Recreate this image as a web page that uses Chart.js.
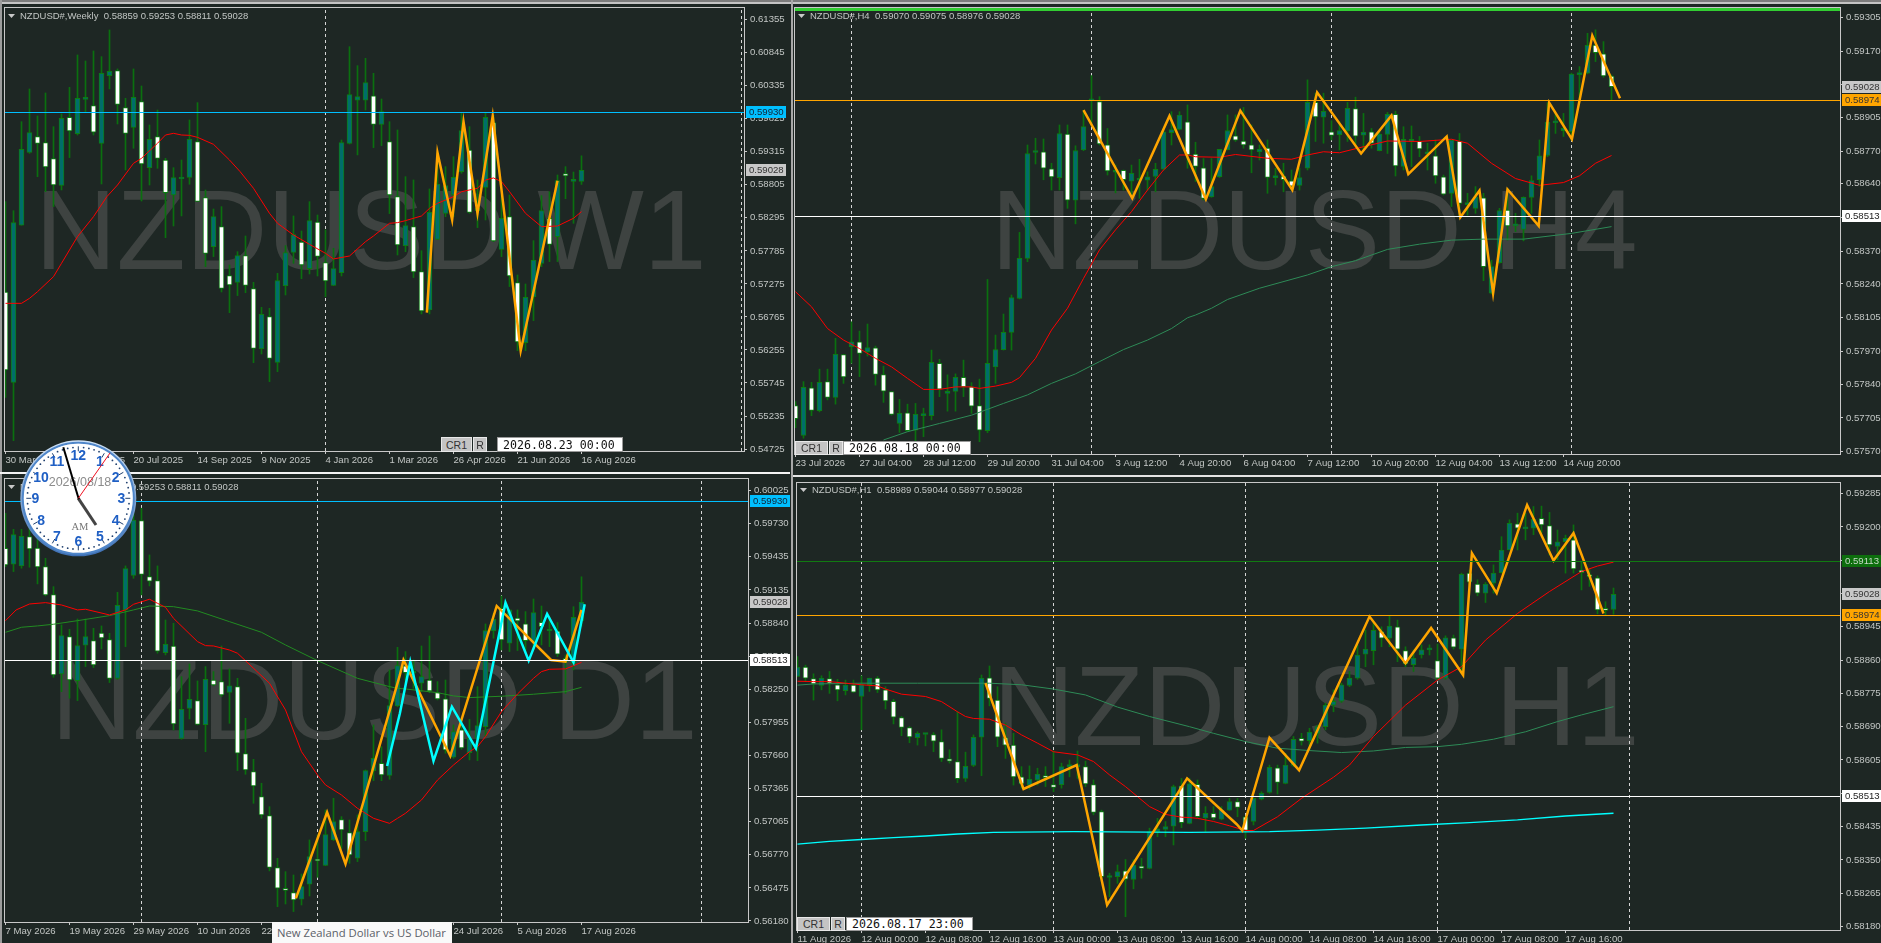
<!DOCTYPE html>
<html>
<head>
<meta charset="utf-8">
<title>NZDUSD</title>
<script src="https://cdn.jsdelivr.net/npm/chart.js@4"></script>
<style>
html,body{margin:0;padding:0;background:#1e2724;width:1881px;height:943px;overflow:hidden}
canvas{position:absolute}
.bar{position:absolute;z-index:2}
.btn{position:absolute;z-index:3;background:#c4c4c4;border:1px solid #e8e8e8;box-sizing:border-box;color:#333;font:10.5px "Liberation Sans";text-align:center}
.tbox{position:absolute;z-index:3;background:#fff;border:1px solid #999;box-sizing:border-box;color:#111;font:11.6px "DejaVu Sans Mono";padding-left:5px;white-space:pre}
#tip{position:absolute;z-index:5;left:272px;top:922px;width:180px;height:21px;background:#f9f9f9;color:#5b6068;font:11.3px "Open Sans";padding:3px 0 0 5px;box-sizing:border-box;white-space:nowrap}
#clock{position:absolute;z-index:4;left:0;top:419px}
</style>
</head>
<body>
<div id="tip">New Zealand Dollar vs US Dollar</div>
<script>
// weekly: open, high, low, close
const w1Ohlc=[[.5715,.58545,.55524,.55946],[.55755,.58406,.54855,.58221],[.5818,.5978,.5818,.59353],[.59307,.60285,.59291,.5961],[.59549,.59868,.58931,.59446],[.59456,.60223,.58699,.5908],[.59209,.59703,.58468,.58802],[.58797,.59899,.58725,.59832],[.59847,.6031,.59225,.59636],[.59595,.6081,.59574,.60141],
[.60125,.60717,.59935,.60141],[.60027,.60872,.59574,.59616],[.59446,.60784,.58818,.60527],[.60491,.61196,.60285,.60558],[.60568,.60594,.59744,.60048],[.59997,.60141,.59034,.596],[.59693,.60594,.59369,.60156],[.60089,.60331,.58555,.59127],[.5907,.59729,.58802,.59507],[.59549,.5996,.5906,.59214],
[.59188,.59214,.57989,.58684],[.58648,.5907,.58169,.58916],[.58895,.59188,.58324,.58905],[.58921,.59806,.58813,.59507],[.59472,.60074,.5855,.5855],[.58607,.58725,.57541,.57747],[.5785,.58432,.57696,.58313],[.58159,.58468,.5715,.57207],[.57402,.57567,.56831,.57258],[.57299,.57773,.57094,.57711],
[.57711,.58015,.5714,.57253],[.57202,.57299,.56059,.5628],[.56275,.56913,.56193,.56805],[.56769,.56898,.55766,.56126],[.56064,.57438,.5592,.57325],[.57248,.57866,.57104,.57758],[.57763,.58324,.57593,.58036],[.57922,.58092,.57356,.57567],[.5751,.58545,.57428,.58252],[.58231,.58339,.57397,.57701],
[.57603,.58108,.57078,.5732],[.57253,.57825,.57248,.5751],[.57449,.59497,.57397,.59456],[.59446,.60938,.59435,.60197],[.6011,.60645,.59266,.60166],[.6011,.60758,.5996,.60383],[.60177,.60527,.59379,.59739],[.59739,.6013,.5941,.59935],[.59472,.5978,.5836,.58648],[.58622,.59652,.57721,.57876],
[.57866,.58931,.57773,.58174],[.58159,.5888,.57372,.57459],[.57464,.57788,.56811,.56857],[.56872,.58741,.56811,.5838],[.57963,.59302,.57963,.58818],[.58365,.59086,.58313,.58792],[.58648,.5924,.58313,.58921],[.59008,.59919,.58983,.59641],[.59343,.59703,.58365,.5838],[.58406,.5888,.58144,.58442],
[.58766,.59919,.58262,.59847],[.59765,.59883,.57927,.57938],[.57809,.58648,.57696,.58288],[.58313,.58648,.57233,.57397],[.57294,.57413,.56244,.56378],[.56368,.57274,.56244,.57068],[.57078,.57943,.56708,.57644],[.57593,.58638,.57541,.58406],[.58288,.58699,.57619,.57886],[.58005,.58957,.57619,.58869],
[.58977,.59086,.58591,.58941],[.58859,.59003,.5821,.5889],[.58859,.59253,.58811,.59028]];
const w1Red=[[0,.56975],[2,.56975],[3,.57052],[4,.57155],[6,.57387],[7,.57593],[9,.58005],[11,.58313],[12.67,.58622],[14,.58802],[16,.59137],[17,.59214],[19,.59446],[20,.59574],[21,.596],[22,.59574],[23,.59569],[24,.59538],[26,.5943],[28,.59188],[29.33,.59008],[31,.58751],[33,.58365],[34,.58211],[36,.5803],[38,.57886],[40,.57747],[41,.5766],[43,.57706],[45,.57927],[46,.58015],[48,.58211],[49,.58221],[50,.58252],[52,.58324],[53,.58442],[54,.58519],[56,.58622],[57,.58699],[59,.58751],[60,.5888],[61,.58911],[62,.58854],[63,.58699],[65,.58365],[67,.58159],[69,.58169],[71,.58288],[72,.58391]];
const w1Zig=[[52.67,.56831],[54,.59302],[55.83,.58262],[57.25,.5978],[59,.58365],[60.9,.59868],[64.4,.56244],[69,.58869]];
const w1Ticks=[.61355,.60845,.60335,.59825,.59315,.58805,.58295,.57785,.57275,.56765,.56255,.55745,.55235,.54725];
const w1Dates=['30 Mar 2025','25 May 2025','20 Jul 2025','14 Sep 2025','9 Nov 2025','4 Jan 2026','1 Mar 2026','26 Apr 2026','21 Jun 2026','16 Aug 2026'];
const w1Seps=[40,92];

// 4 hours
const h4Ohlc=[[.57754,.5777,.57666,.57702],[.57635,.5785,.57624,.57827],[.57825,.57847,.57714,.57735],[.57734,.579,.57729,.57847],[.5785,.579,.57777,.57787],[.57787,.58023,.5776,.57959],[.57958,.57959,.57843,.57869],[.5799,.58089,.57923,.58009],[.58009,.58052,.5787,.57963],[.57969,.5808,.57952,.57986],
[.57985,.57992,.57836,.57879],[.57878,.57912,.57767,.57812],[.5781,.5781,.57716,.57719],[.57683,.57779,.57647,.57723],[.57725,.5776,.5765,.57654],[.57656,.57763,.57614,.57719],[.57714,.57744,.5763,.57719],[.57714,.57976,.57697,.57927],[.57923,.57939,.5779,.5782],[.57803,.57877,.57732,.57811],
[.57811,.57881,.57732,.57867],[.57867,.57936,.5779,.57829],[.57829,.57846,.57723,.57752],[.57754,.5786,.5761,.57656],[.57654,.58258,.57646,.57923],[.57909,.58036,.57843,.57978],[.57978,.5812,.57976,.58047],[.58047,.58196,.57976,.58186],[.58182,.58446,.5818,.58342],[.58342,.58795,.58329,.58761],
[.58765,.58822,.58719,.58773],[.58768,.58819,.58656,.58702],[.587,.58722,.58615,.58667],[.58664,.58875,.58615,.58841],[.58839,.58875,.58542,.58575],[.58575,.58792,.5848,.58773],[.58775,.58934,.58772,.58868],[.58971,.59072,.58882,.58974],[.58968,.58988,.58795,.58799],[.58796,.58861,.58675,.58691],
[.58686,.58715,.58604,.58692],[.58694,.58695,.58615,.58656],[.5865,.58715,.58588,.58682],[.58654,.58738,.58582,.58658],[.58654,.58688,.58615,.58668],[.58669,.58722,.58608,.58698],[.58698,.58851,.58695,.58848],[.58844,.58928,.58795,.58856],[.58857,.58928,.58855,.58914],[.58887,.58955,.58702,.58755],
[.58759,.58806,.58649,.58709],[.58704,.58741,.58575,.58582],[.58588,.58741,.58586,.58629],[.58668,.58778,.58665,.58778],[.58776,.58915,.58775,.58853],[.58832,.58915,.58809,.58814],[.58811,.58945,.58782,.58795],[.58796,.58875,.58684,.58775],[.58767,.58795,.58735,.58779],[.58783,.58815,.58602,.58665],
[.58664,.58702,.58635,.58673],[.58671,.58722,.58608,.58656],[.58652,.58695,.58615,.58631],[.58634,.58702,.58615,.58665],[.58702,.59055,.58695,.58965],[.58965,.59002,.58809,.58907],[.58906,.59002,.58802,.58929],[.58848,.58892,.58815,.58833],[.58836,.58888,.58775,.58853],[.58851,.58965,.58809,.58941],
[.5894,.58986,.58795,.5883],[.58834,.58921,.58779,.58847],[.58848,.58861,.58782,.58802],[.58772,.58848,.58771,.58839],[.58837,.58925,.58761,.58917],[.58917,.5893,.58671,.58711],[.58709,.58868,.58695,.58818],[.58809,.58871,.58709,.58818],[.5881,.58829,.58748,.58779],[.58759,.58802,.58695,.58768],
[.58752,.58815,.58642,.58671],[.58668,.58675,.58595,.58599],[.58602,.58815,.58549,.58815],[.58811,.58841,.58508,.58562],[.58557,.58602,.58515,.58562],[.58542,.58629,.58522,.58588],[.58584,.58602,.58253,.58309],[.58203,.58335,.582,.58309],[.58325,.58542,.58322,.58533],[.58535,.58622,.58415,.58472],
[.58472,.58522,.58449,.5848],[.58458,.58588,.58412,.58586],[.58586,.58672,.58522,.58653],[.58656,.58815,.58629,.58752],[.58753,.58964,.58748,.58886],[.58883,.58921,.58841,.58887],[.58852,.58921,.58829,.58861],[.58848,.59082,.58815,.59078],[.59076,.59108,.58975,.59082],[.59082,.59241,.59079,.59193],
[.59194,.59255,.59128,.59164],[.59159,.59208,.59065,.59071],[.5907,.59075,.58976,.59028]];
const h4Red=[[0,.58209],[2,.58149],[4,.58062],[6,.58016],[8,.57982],[10,.57943],[12,.57909],[14,.57863],[16,.57819],[18,.57819],[20,.57829],[22,.57829],[23,.57823],[25,.57832],[27,.57847],[28,.57866],[30,.57943],[32,.58056],[34,.58143],[36,.58262],[38,.58376],[40,.58456],[42,.58529],[44,.58615],[46,.58695],[48,.58755],[49,.58755],[50,.58748],[53,.58746],[55,.58757],[59,.58742],[62,.58738],[64,.58755],[66,.58768],[68,.58764],[71,.58788],[74,.58811],[78,.58809],[82,.58818],[84,.58802],[87,.58722],[90,.58661],[93,.58634],[96,.58645],[98,.58672],[100,.58722],[102,.58753]];
const h4Green=[[11,.57617],[14,.5765],[18,.57683],[22,.57716],[26,.57763],[29,.57797],[32,.57843],[35,.57881],[38,.5793],[41,.57978],[44,.58016],[47,.58062],[49,.58105],[50,.58116],[52,.58143],[54,.58178],[58,.58223],[64,.58276],[67,.58309],[70,.58333],[74,.58378],[78,.58399],[82,.58415],[86,.58419],[91,.58419],[97,.58442],[102,.58469]];
const h4Zig=[[36,.58934],[42.1,.58582],[46.75,.58911],[51.3,.58578],[55.6,.58932],[62.1,.58615],[65.2,.59005],[70.7,.58761],[74.5,.58913],[76.6,.58679],[81.4,.58829],[83.1,.58506],[85.5,.58613],[87.2,.58203],[89,.58618],[92.9,.58472],[94.2,.58964],[97.05,.58818],[99.6,.59232],[103.06,.58982]];
const h4Ticks=[.59305,.5917,.59035,.58905,.5877,.5864,.58505,.5837,.5824,.58105,.5797,.5784,.57705,.5757];
const h4Dates=['23 Jul 2026','27 Jul 04:00','28 Jul 12:00','29 Jul 20:00','31 Jul 04:00','3 Aug 12:00','4 Aug 20:00','6 Aug 04:00','7 Aug 12:00','10 Aug 20:00','12 Aug 04:00','13 Aug 12:00','14 Aug 20:00'];
const h4Seps=[7,37,67,97];

// daily
const d1Ohlc=[[.59507,.5982,.59344,.59359],[.59365,.59677,.59299,.59629],[.5935,.59677,.59329,.59615],[.59612,.59731,.59338,.59501],[.5951,.59612,.59189,.59341],[.59344,.59418,.59082,.59091],[.59094,.59165,.58355,.58376],[.58385,.58823,.58227,.58727],[.58719,.58784,.58168,.58331],[.58326,.58876,.58147,.58638],
[.58641,.58876,.58451,.58719],[.58683,.58793,.58442,.58465],[.58751,.58814,.58608,.58707],[.58692,.58748,.58308,.58346],[.58346,.59114,.58337,.58998],[.58957,.5935,.58629,.59326],[.59266,.5982,.59239,.5976],[.59755,.59865,.59091,.59275],[.59254,.59448,.59171,.59213],[.59219,.5935,.5857,.58588],
[.58576,.58867,.58555,.5865],[.58635,.58838,.57885,.57939],[.5781,.58361,.57802,.58069],[.58078,.58474,.57983,.58159],[.58147,.58323,.5793,.57935],[.57933,.58451,.57691,.58337],[.58331,.58406,.58278,.58287],[.58317,.58635,.58183,.58198],[.58221,.5843,.57944,.58278],[.58272,.58346,.57522,.57677],
[.57674,.57989,.57489,.57528],[.57513,.57623,.5723,.57385],[.5729,.57409,.57096,.57126],[.5712,.572,.56626,.56658],[.56655,.56739,.56307,.56471],[.56468,.5662,.56331,.56453],[.56432,.5659,.56263,.56367],[.56373,.56599,.56322,.56486],[.56507,.56903,.56402,.56754],[.56727,.56947,.56569,.56715],
[.56676,.5717,.56673,.5695],[.56903,.57275,.56897,.57066],[.57084,.57111,.56828,.56992],[.56968,.57081,.56694,.56769],[.56739,.57126,.56709,.56977],[.56977,.57528,.56897,.57522],[.57522,.5793,.57432,.57632],[.57587,.57736,.57432,.57483],[.5748,.58421,.57444,.58102],[.58099,.58623,.58093,.58459],
[.58457,.58585,.58302,.58397],[.58391,.5851,.58257,.58406],[.58302,.58635,.58227,.58361],[.58331,.58724,.58218,.58233],[.58218,.58317,.58153,.58162],[.58162,.58331,.57677,.57706],[.57641,.5793,.57632,.5787],[.57885,.57989,.57712,.57724],[.57683,.5798,.57617,.5781],[.5781,.58272,.57611,.57924],
[.57915,.58832,.57825,.58772],[.58769,.58927,.58704,.58873],[.58972,.59082,.58599,.58689],[.58659,.58957,.58585,.58957],[.58885,.58957,.58594,.58858],[.58832,.58942,.58576,.58683],[.58674,.59055,.58599,.58933],[.58847,.58992,.58644,.58808],[.58769,.58897,.58629,.58778],[.58769,.58844,.5854,.58561],
[.58525,.58555,.58212,.58495],[.5848,.58986,.58421,.58891],[.58859,.59253,.58811,.59028]];
const d1Red=[[0,.58861],[1.33,.58957],[3,.5901],[5,.59022],[7,.59001],[9,.58957],[10,.58963],[13,.58912],[15,.58957],[16,.59007],[18,.59052],[19,.59016],[20,.5898],[21,.58882],[24,.58674],[25,.58638],[26,.58635],[28,.58599],[29,.5857],[31,.58436],[33,.58302],[35,.58064],[37,.57691],[39,.57483],[40,.57394],[42,.57304],[44,.57185],[46,.57096],[48,.57051],[49,.57096],[50,.57141],[52,.5726],[54,.57438],[56,.57572],[58,.57691],[59,.57736],[60,.57825],[62,.58049],[64,.58206],[66,.58346],[67,.58406],[68,.58427],[70,.5843],[71,.58459],[72,.58489]];
const d1Green=[[0,.58757],[2,.58802],[4,.58814],[6,.58829],[9,.58861],[13,.58906],[16,.58957],[18,.58992],[21,.58986],[24,.58948],[28,.58852],[32,.58757],[35,.58644],[39,.58504],[44,.58346],[48,.58272],[49,.58257],[50,.58251],[54,.58218],[56,.58189],[58,.58174],[62,.58186],[66,.58204],[70,.58227],[72,.58266]];
const d1Zig=[[36.3,.56382],[40.2,.5715],[42.5,.56688],[49.3,.58376],[49.75,.5851],[55.6,.57653],[61.4,.58992],[68.2,.5851],[70,.58495],[72,.58957]];
const d1Cyan=[[47.7,.57563],[49.3,.58034],[50.6,.58495],[53.5,.57608],[55.8,.58093],[58.8,.57721],[62.5,.59022],[65.4,.58504],[67.7,.58921],[71,.58489],[72.4,.59007]];
const d1Ticks=[.60025,.5973,.59435,.59135,.5884,.58545,.5825,.57955,.5766,.57365,.57065,.5677,.56475,.5618];
const d1Dates=['7 May 2026','19 May 2026','29 May 2026','10 Jun 2026','22 Jun 2026','2 Jul 2026','14 Jul 2026','24 Jul 2026','5 Aug 2026','17 Aug 2026'];
const d1Seps=[17,39,62,87];

// 1 hour
const h1Ohlc=[[.58818,.58869,.58818,.58842],[.58842,.58847,.58805,.58814],[.58813,.58825,.58758,.58799],[.58795,.5882,.58784,.58814],[.58813,.58831,.58775,.58801],[.58797,.58811,.58756,.58784],[.58782,.58809,.58771,.58796],[.58796,.58809,.58777,.58778],[.58767,.5882,.58682,.58797],[.58797,.58814,.5878,.58814],
[.58814,.58818,.58777,.58784],[.58784,.58792,.58735,.58756],[.58755,.5876,.58697,.58714],[.58713,.58716,.58667,.58688],[.58688,.5869,.58649,.58664],[.58662,.58677,.58643,.58673],[.5867,.58673,.58641,.58673],[.5867,.58675,.58626,.58653],[.58652,.58682,.58601,.58609],[.58608,.58631,.58597,.58602],
[.58601,.58728,.58547,.58557],[.58558,.58625,.5855,.58589],[.58591,.58669,.58588,.58663],[.58663,.58822,.58565,.58814],[.58815,.58845,.58743,.58762],[.58758,.58792,.58639,.58663],[.58662,.58699,.58609,.58643],[.58643,.58673,.58541,.58562],[.58562,.58588,.58533,.58544],[.58541,.5859,.5853,.58556],
[.58554,.58584,.58541,.58569],[.58565,.58588,.58537,.5856],[.58542,.58628,.58524,.58535],[.58542,.58597,.58533,.58588],[.58588,.58605,.58562,.58593],[.58588,.58628,.58558,.58593],[.58588,.58602,.58537,.58544],[.58542,.58554,.58465,.58471],[.58473,.58477,.58303,.58307],[.58305,.58316,.58256,.58309],
[.58307,.58337,.5829,.5832],[.58322,.58351,.58205,.58301],[.583,.5835,.58276,.58337],[.58334,.58354,.58303,.58328],[.58328,.58431,.58327,.58422],[.58422,.58456,.58409,.58429],[.58428,.58448,.58409,.58435],[.58436,.58541,.58388,.58537],[.58539,.58558,.58432,.58445],[.58443,.58558,.58442,.58544],
[.58543,.58554,.58456,.5846],[.58457,.58486,.58422,.58469],[.58469,.58486,.58452,.58457],[.58454,.58486,.58452,.58477],[.58477,.58507,.58476,.58499],[.58499,.58507,.5846,.58484],[.5846,.5846,.58405,.58425],[.58448,.58507,.58439,.58507],[.58505,.58524,.58503,.5852],[.58522,.58592,.5852,.58586],
[.58585,.58592,.58518,.58548],[.58545,.58622,.58544,.58592],[.58591,.58665,.58588,.58658],[.5866,.58673,.58643,.58653],[.58654,.58686,.58631,.58676],[.58673,.58694,.58648,.5869],[.5869,.5875,.58682,.58745],[.58745,.58784,.58728,.58755],[.58755,.58801,.58752,.58797],[.58795,.58831,.58792,.58814],
[.58814,.58899,.58811,.58873],[.58875,.58937,.58843,.58888],[.58884,.58958,.58848,.58936],[.58933,.58945,.58894,.58916],[.58916,.58974,.58894,.58947],[.58945,.58962,.58856,.58888],[.58884,.58894,.58843,.5885],[.58848,.58886,.58831,.58865],[.58873,.58899,.58865,.58886],[.58886,.58899,.58873,.58888],
[.58859,.58901,.58809,.58814],[.58814,.58922,.58811,.58917],[.58917,.58924,.58888,.58893],[.58888,.59082,.58826,.59079],[.59082,.5909,.59052,.59059],[.59054,.59065,.59024,.59031],[.59031,.59058,.59007,.59054],[.59056,.59103,.59031,.59082],[.59083,.59175,.59082,.59141],[.59141,.59218,.59141,.59209],
[.59208,.59235,.59141,.59197],[.59195,.59235,.59167,.59197],[.59197,.59252,.5918,.59219],[.59222,.59253,.59184,.59205],[.59203,.59237,.59128,.59154],[.5915,.59192,.59116,.59162],[.59162,.59179,.59082,.59171],[.59167,.59205,.59082,.59093],[.5909,.59111,.59039,.59083],[.59077,.59094,.59048,.59073],
[.5907,.59075,.58978,.58988],[.5899,.59009,.58975,.58987],[.58989,.59044,.58977,.59028]];
const h1Red=[[0,.58806],[2,.58805],[4,.58805],[6,.58801],[8,.58797],[10,.58794],[11,.58786],[13,.58773],[16,.58767],[18,.58754],[20,.58728],[21,.58716],[22,.58711],[24,.58709],[26,.58694],[28,.58669],[30,.58648],[32,.58626],[35,.58618],[37,.58601],[39,.58567],[41,.58537],[44,.58486],[46,.58466],[48,.58459],[49,.58458],[50,.58456],[52,.58448],[54,.58437],[56,.58425],[57,.58425],[60,.5846],[63,.58507],[67,.58561],[69,.58592],[72,.58665],[76,.58745],[80,.58809],[83,.58843],[86,.58911],[90,.58979],[94,.59035],[98,.59086],[100,.591],[102,.5911]];
const h1Green=[[0,.58796],[2,.58799],[8,.58801],[15,.58801],[24,.58801],[28,.58797],[32,.58786],[36,.58771],[40,.5874],[44,.58716],[49,.5869],[52,.58673],[56,.58652],[60,.58635],[64,.58629],[68,.58624],[72,.58628],[76,.58637],[80,.58639],[83,.58645],[87,.58658],[91,.58677],[95,.58703],[98,.5872],[102,.58741]];
const h1Cyan=[[0,.5839],[4,.58397],[8,.58402],[12,.58407],[16,.58411],[20,.58416],[24.5,.5842],[34.5,.58422],[49,.5842],[59,.58422],[65,.58426],[71,.58431],[78,.58439],[84,.58445],[90,.58452],[96,.58462],[102,.58469]];
const h1Zig=[[23.5,.58801],[28.25,.58531],[34.9,.58592],[38.7,.58235],[48.7,.58558],[54.9,.58441],[55.6,.58425],[59,.58662],[62.7,.58579],[71.5,.58971],[76,.58852],[79.2,.58942],[83.2,.58822],[84.3,.59133],[87.4,.59031],[91.2,.59256],[94.5,.59114],[97,.59184],[100.75,.58979]];
const h1Ticks=[.59285,.592,.59115,.5903,.58945,.5886,.58775,.5869,.58605,.5852,.58435,.5835,.58265,.5818];
const h1Dates=['11 Aug 2026','12 Aug 00:00','12 Aug 08:00','12 Aug 16:00','13 Aug 00:00','13 Aug 08:00','13 Aug 16:00','14 Aug 00:00','14 Aug 08:00','14 Aug 16:00','17 Aug 00:00','17 Aug 08:00','17 Aug 16:00'];
const h1Seps=[8,32,56,80,104];

// price levels
const lastPrice=.59028, cyanLevel=.5993, orangeLevel=.58974, whiteLevel=.58513, greenLevel=.59113, limeLevel=.59337;

const FRAME='#c8c8c8', TXT='#c2c6c4', WICK='#0a700f', EDGE='#0c7d12', UP='#006e6a', DOWN='#ffffff';
const RED='#ff0000', ORANGE='#ffa500', SEA='#2e8b57', FOREST='#228b22', CYAN='#00ffff', SKY='#00bfff';
const lastTag={v:lastPrice,bg:'#c8c8c8',fg:'#333',noLine:true};
const cyanTag={v:cyanLevel,color:SKY,bg:'#00bfff',fg:'#123'};
const orangeTag={v:orangeLevel,color:ORANGE,bg:'#ffa500',fg:'#333'};
const whiteTag={v:whiteLevel,color:'#ffffff',bg:'#ffffff',fg:'#222'};

const panels=[
 {id:'w1',rect:[3,4,787,467],area:[5,8,744,451],x0:5.5,yr:[.54695,.61535],ohlc:w1Ohlc,ticks:w1Ticks,dates:w1Dates,seps:w1Seps,
  lines:[{d:w1Red,c:RED,w:1},{d:w1Zig,c:ORANGE,w:2.5}],levels:[cyanTag,lastTag],
  head:'NZDUSD#,Weekly  0.58859 0.59253 0.58811 0.59028',headX:20,headY:16,
  mark:'NZDUSD W1',markX:35,markY:269},
 {id:'h4',rect:[793,4,1088,470],area:[795,8,1840,454],x0:795.5,yr:[.57561,.59342],ohlc:h4Ohlc,ticks:h4Ticks,dates:h4Dates,seps:h4Seps,
  lines:[{d:h4Green,c:SEA,w:1},{d:h4Red,c:RED,w:1},{d:h4Zig,c:ORANGE,w:2.5}],levels:[{v:limeLevel,color:'#32cd32',w:3},lastTag,orangeTag,whiteTag],
  head:'NZDUSD#,H4  0.59070 0.59075 0.58976 0.59028',headX:810,headY:16,
  mark:'NZDUSD H4',markX:991,markY:269},
 {id:'d1',rect:[3,475,787,468],area:[5,479,748,922],x0:5.5,yr:[.5617,.60126],ohlc:d1Ohlc,ticks:d1Ticks,dates:d1Dates,seps:d1Seps,
  lines:[{d:d1Green,c:FOREST,w:1},{d:d1Red,c:RED,w:1},{d:d1Zig,c:ORANGE,w:2.5},{d:d1Cyan,c:CYAN,w:2.5}],levels:[cyanTag,lastTag,whiteTag],
  head:'NZDUSD#,Daily  0.58859 0.59253 0.58811 0.59028',headX:20,headY:487,
  mark:'NZDUSD D1',markX:51,markY:739},
 {id:'h1',rect:[794,478,1087,465],area:[797,483,1840,930],x0:797.5,yr:[.58171,.59312],ohlc:h1Ohlc,ticks:h1Ticks,dates:h1Dates,seps:h1Seps,
  lines:[{d:h1Cyan,c:CYAN,w:1.3},{d:h1Green,c:SEA,w:1},{d:h1Red,c:RED,w:1},{d:h1Zig,c:ORANGE,w:2.5}],levels:[{v:greenLevel,color:'#117a11',bg:'#0d6e0d',fg:'#c8d8c8'},lastTag,orangeTag,whiteTag],
  head:'NZDUSD#,H1  0.58989 0.59044 0.58977 0.59028',headX:812,headY:490,
  mark:'NZDUSD H1',markX:993,markY:745}
];

const backPlugin={id:'back',beforeDatasetsDraw(chart,a,o){
  const c=chart.ctx,p=o.panel; c.save();
  c.fillStyle='#3e4341'; c.font='113px "Liberation Sans"'; c.textBaseline='alphabetic';
  c.fillText(p.mark,p.markX-p.rect[0],p.markY-p.rect[1]);
  c.restore();
},afterDraw(chart,a,o){
  const c=chart.ctx,p=o.panel,ar=chart.chartArea,y=chart.scales.y;
  c.save();
  c.strokeStyle=FRAME; c.lineWidth=1;
  c.strokeRect(ar.left-.5,ar.top-.5,ar.right-ar.left+1,ar.bottom-ar.top+1);
  p.levels.forEach(l=>{
    const py=Math.round(y.getPixelForValue(l.v));
    if(!l.noLine){
      c.fillStyle=l.color; const w=l.w||1;
      c.fillRect(ar.left,py-Math.floor(w/2),ar.right-ar.left,w);
    }
    if(l.bg){
      c.fillStyle=l.bg; c.fillRect(ar.right+2,py-6,40,12);
      c.fillStyle=l.fg; c.font='9.6px "Liberation Sans"'; c.textBaseline='middle';
      c.fillText(l.v.toFixed(5),ar.right+5,py+.5);
    }
  });
  // header line with the small triangle
  const hx=p.headX-p.rect[0],hy=p.headY-p.rect[1];
  c.fillStyle='#c8c8c8'; c.beginPath(); c.moveTo(hx-12,hy-2); c.lineTo(hx-5,hy-2); c.lineTo(hx-8.5,hy+2); c.fill();
  c.fillStyle=TXT; c.font='9.5px "Liberation Sans"'; c.textBaseline='middle';
  c.fillText(p.head,hx,hy);
  c.restore();
}};

function pts(rows){ return rows.map(r=>({x:r[0],y:r[1]})); }

panels.forEach(p=>{
  const cv=document.createElement('canvas');
  const [rx,ry,rw,rh]=p.rect, [al,at,ar,ab]=p.area;
  cv.width=rw; cv.height=rh; cv.style.left=rx+'px'; cv.style.top=ry+'px';
  document.body.appendChild(cv);
  const xmin=(al-p.x0)/8, xmax=(ar-p.x0)/8;
  const ds=[];
  p.seps.forEach(s=>ds.push({type:'line',data:[{x:s,y:p.yr[0]},{x:s,y:p.yr[1]}],borderColor:'#d6d6d6',borderWidth:1,borderDash:[3,3],pointRadius:0,order:30}));
  ds.push({type:'bar',grouped:false,data:p.ohlc.map((r,i)=>({x:i,y:[r[2],r[1]]})),backgroundColor:WICK,borderWidth:0,maxBarThickness:1,barPercentage:1,categoryPercentage:1,order:20});
  ds.push({type:'bar',grouped:false,data:p.ohlc.map((r,i)=>({x:i,y:[r[0],r[3]]})),
    backgroundColor:p.ohlc.map(r=>r[3]>=r[0]?UP:DOWN),borderColor:EDGE,borderWidth:1,borderSkipped:false,minBarLength:2,maxBarThickness:5,barPercentage:1,categoryPercentage:1,order:19});
  p.lines.forEach((l,i)=>ds.push({type:'line',data:pts(l.d),borderColor:l.c,borderWidth:l.w,pointRadius:0,tension:0,order:10-i}));
  new Chart(cv,{
    type:'bar',
    data:{datasets:ds},
    plugins:[backPlugin],
    options:{
      responsive:false,animation:false,devicePixelRatio:1,
      layout:{autoPadding:false,padding:{left:al-rx,top:at-ry,right:0,bottom:0}},
      plugins:{legend:{display:false},tooltip:{enabled:false},back:{panel:p}},
      events:[],
      scales:{
        x:{type:'linear',min:xmin,max:xmax,offset:false,
          grid:{offset:false,drawOnChartArea:false,color:FRAME,tickLength:3},border:{color:FRAME},
          afterBuildTicks(s){ s.ticks=p.dates.map((d,i)=>({value:i*8})); },
          afterFit(s){ s.height=ry+rh-ab; s.paddingLeft=0; s.paddingRight=0; s.paddingTop=0; s.paddingBottom=0; },
          ticks:{autoSkip:false,maxRotation:0,align:'start',padding:1,color:TXT,font:{family:'Liberation Sans',size:9.6},callback:(v)=>p.dates[v/8]}},
        y:{type:'linear',position:'right',min:p.yr[0],max:p.yr[1],
          grid:{drawOnChartArea:false,color:FRAME,tickLength:3},border:{color:FRAME},
          afterBuildTicks(s){ s.ticks=p.ticks.map(v=>({value:v})); },
          afterFit(s){ s.width=rx+rw-ar; s.paddingLeft=0; s.paddingRight=0; s.paddingTop=0; s.paddingBottom=0; },
          ticks:{autoSkip:false,padding:3,color:TXT,font:{family:'Liberation Sans',size:9.6},callback:v=>v.toFixed(5)}}
      }
    }
  });
});

// CR1, R and the time boxes on the panels
function box(cls,x,y,w,h,t){
  const d=document.createElement('div'); d.className=cls; d.textContent=t;
  d.style.cssText+=`left:${x}px;top:${y}px;width:${w}px;height:${h}px;line-height:${h-1}px`;
  document.body.appendChild(d);
}
box('btn',441,437,31,15,'CR1'); box('btn',473,437,14,15,'R'); box('tbox',497,437,126,15,'2026.08.23 00:00');
box('btn',795,441,33,14,'CR1'); box('btn',829,441,14,14,'R'); box('tbox',843,441,128,14,'2026.08.18 00:00');
box('btn',797,917,33,14,'CR1'); box('btn',831,917,14,14,'R'); box('tbox',846,917,127,14,'2026.08.17 23:00');

// window edges
[[0,0,1881,2,'#7c7c7c'],[0,2,1881,2,'#c4c4c4'],[0,0,2,943,'#9c9c9c'],[791,0,2,943,'#a8a8a8'],[0,472,790,2,'#f4f4f4'],[793,475,1088,2,'#e4e4e4']].forEach(b=>{
  const d=document.createElement('div'); d.className='bar';
  d.style.cssText=`left:${b[0]}px;top:${b[1]}px;width:${b[2]}px;height:${b[3]}px;background:${b[4]}`;
  document.body.appendChild(d);
});

// clock
const cx=78.3, cy=79.3, clockNums=['12','1','2','3','4','5','6','7','8','9','10','11'];
let svg=`<svg id="clock" width="160" height="160" xmlns="http://www.w3.org/2000/svg"><defs><linearGradient id="rim" x1="0" y1="0" x2="0" y2="1"><stop offset="0" stop-color="#cfe2f6"/><stop offset="1" stop-color="#3d6fb4"/></linearGradient></defs>`;
svg+=`<circle cx="${cx}" cy="${cy}" r="58" fill="url(#rim)"/><circle cx="${cx}" cy="${cy}" r="55.5" fill="none" stroke="#4f86c9" stroke-width="2"/><circle cx="${cx}" cy="${cy}" r="54.5" fill="#fff"/>`;
for(let i=0;i<60;i++){
  const a=i*Math.PI/30, s=Math.sin(a), c=Math.cos(a);
  if(i%5==0) svg+=`<line x1="${cx+s*47}" y1="${cy-c*47}" x2="${cx+s*52}" y2="${cy-c*52}" stroke="#20406f" stroke-width="1"/>`;
  else svg+=`<circle cx="${cx+s*51}" cy="${cy-c*51}" r="0.9" fill="#20406f"/>`;
}
clockNums.forEach((n,i)=>{
  const a=i*Math.PI/6;
  svg+=`<text x="${cx+Math.sin(a)*43}" y="${cy-Math.cos(a)*43+5}" text-anchor="middle" font-family="Liberation Sans" font-weight="bold" font-size="14" fill="#1f5fc4">${n}</text>`;
});
svg+=`<text x="80" y="67" text-anchor="middle" font-family="Liberation Sans" font-size="12.5" fill="#8c8c8c">2026/08/18</text>`;
svg+=`<text x="80" y="111" text-anchor="middle" font-family="Liberation Serif" font-size="10.5" fill="#777">AM</text>`;
svg+=`<line x1="${cx}" y1="${cy}" x2="96" y2="106" stroke="#444" stroke-width="3"/>`;
svg+=`<line x1="${cx+.5}" y1="${cy+1}" x2="63.3" y2="28.3" stroke="#000" stroke-width="2"/>`;
svg+=`<line x1="${cx}" y1="${cy}" x2="110" y2="34" stroke="#f01020" stroke-width="1"/></svg>`;
document.body.insertAdjacentHTML('beforeend',svg);
</script>
</body>
</html>
